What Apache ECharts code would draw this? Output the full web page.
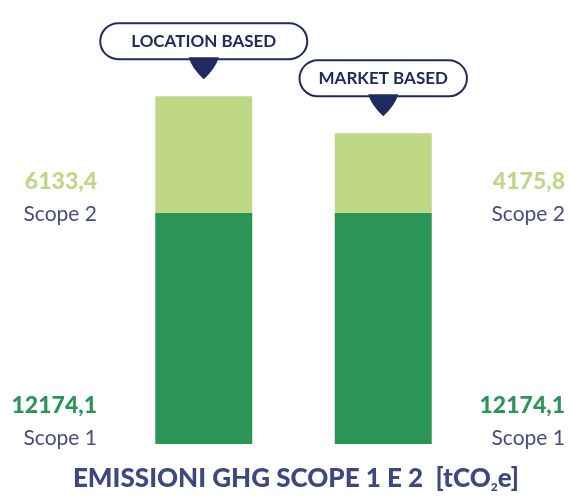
<!DOCTYPE html>
<html>
<head>
<meta charset="utf-8">
<script src="https://cdn.jsdelivr.net/npm/echarts@6/dist/echarts.min.js"></script>
<style>
  html, body { margin: 0; padding: 0; background: #fff; }
  #chart { width: 572px; height: 504px; }
</style>
</head>
<body>
<div id="chart"></div>
<script>
const categories = ['LOCATION BASED', 'MARKET BASED']
const scope1 = [12174.1, 12174.1]
const scope2 = [6133.4, 4175.8]
const seriesNames = ['Scope 1', 'Scope 2']
const totals = scope1.map((v, i) => v + scope2[i])

const NAVY = '#1f2b60'
const TEXT = '#454d82'
const TITLE = '#3d4880'
const DARK = '#2b9558'
const LIGHT = '#bfd886'
const FONT = 'Lato, "Open Sans", sans-serif'

const fmt = v => v.toFixed(1).replace('.', ',')

const chart = echarts.init(document.getElementById('chart'))

function sideLabel(x, y, value, name, color) {
  return [
    {
      type: 'text', x, y, silent: true,
      style: { text: fmt(value), font: '900 23px ' + FONT, fill: color, textAlign: 'right', textVerticalAlign: 'middle' }
    },
    {
      type: 'text', x, y: y + 32, silent: true,
      style: { text: name, font: '21px ' + FONT, fill: TEXT, textAlign: 'right', textVerticalAlign: 'middle' }
    }
  ]
}

const boxStyle = pad => ({
  fontFamily: FONT, fontWeight: 'bold', fontSize: 17, color: NAVY,
  backgroundColor: '#fff', borderColor: NAVY, borderWidth: 2,
  borderRadius: 18, padding: [9, pad, 8, pad]
})

chart.setOption({
  animation: false,
  grid: { left: 114, right: 99, top: 64, bottom: 60 },
  xAxis: { type: 'category', data: categories, show: false },
  yAxis: { type: 'value', min: 0, max: 20000, show: false },
  series: [
    {
      name: seriesNames[0], type: 'bar', stack: 'tot', barWidth: 97,
      itemStyle: { color: DARK }, data: scope1
    },
    {
      name: seriesNames[1], type: 'bar', stack: 'tot', barWidth: 97,
      itemStyle: { color: LIGHT }, data: scope2,
      label: {
        show: true, position: 'top', distance: 38,
        formatter: p => '{b' + p.dataIndex + '|' + p.name + '}',
        rich: { b0: boxStyle(30), b1: boxStyle(18) }
      }
    },
    {
      type: 'scatter', data: totals, z: 5, silent: true,
      symbol: 'path://M0,0 L30,0 Q27,12 15,24 Q3,12 0,0 Z',
      symbolSize: [30, 22], symbolOffset: [0, -28],
      itemStyle: { color: NAVY, opacity: 1 }
    }
  ],
  graphic: [
    ...sideLabel(97, 182, scope2[0], seriesNames[1], LIGHT),
    ...sideLabel(97, 406, scope1[0], seriesNames[0], DARK),
    ...sideLabel(565, 182, scope2[1], seriesNames[1], LIGHT),
    ...sideLabel(565, 406, scope1[1], seriesNames[0], DARK),
    {
      type: 'text', x: 296, y: 479, silent: true,
      style: {
        text: '{a|EMISSIONI GHG SCOPE 1 E 2  [tCO}{s|2}{a|e]}',
        textAlign: 'center', textVerticalAlign: 'middle',
        rich: {
          a: { fontFamily: FONT, fontWeight: 900, fontSize: 26, fill: TITLE, lineHeight: 28 },
          s: { fontFamily: FONT, fontWeight: 900, fontSize: 12, fill: TITLE, lineHeight: 28, verticalAlign: 'bottom', padding: [14, 0, 0, 0] }
        }
      }
    }
  ]
})
</script>
</body>
</html>
